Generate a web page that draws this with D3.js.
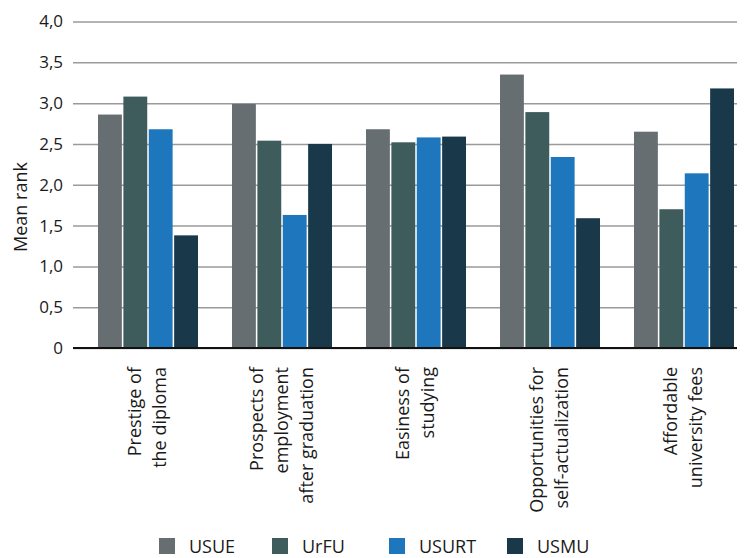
<!DOCTYPE html>
<html>
<head>
<meta charset="utf-8">
<script src="https://cdnjs.cloudflare.com/ajax/libs/d3/7.8.5/d3.min.js"></script>
<style>
  body { margin: 0; background: #fff; }
  svg { font-family: "Open Sans", sans-serif; }
  .grid line { stroke: #9a9a9a; stroke-width: 1.5; }
</style>
</head>
<body>
<svg width="744" height="558"></svg>
<script>
// chart data
var categories = [
    ["Prestige of", "the diploma"],
    ["Prospects of", "employment", "after graduation"],
    ["Easiness of", "studying"],
    ["Opportunities for", "self-actualization"],
    ["Affordable", "university fees"]
];
var series = ["USUE", "UrFU", "USURT", "USMU"];
var colors = ["#666e71", "#3f5c5c", "#1e77bd", "#19394b"];
var USUE  = [2.86, 2.99, 2.68, 3.35, 2.65];
var UrFU  = [3.08, 2.54, 2.52, 2.89, 1.70];
var USURT = [2.68, 1.63, 2.58, 2.34, 2.14];
var USMU  = [1.38, 2.50, 2.59, 1.59, 3.18];
var yTicks = [0, 0.5, 1, 1.5, 2, 2.5, 3, 3.5, 4];

var values = [USUE, UrFU, USURT, USMU];

var svg = d3.select("svg");
var plotLeft = 73, plotRight = 737;

var y = d3.scaleLinear().domain([0, 4]).range([348, 21.5]);

var x0 = d3.scaleBand()
    .domain(d3.range(categories.length))
    .range([81, 751])
    .paddingInner(34/134)
    .paddingOuter(17/134);

var x1 = d3.scaleBand()
    .domain(series)
    .range([0, x0.bandwidth()])
    .paddingInner(0.06);

var color = d3.scaleOrdinal().domain(series).range(colors);

function fmt(v) { return v === 0 ? "0" : d3.format(".1f")(v).replace(".", ","); }

// gridlines + y labels
var yAxis = d3.axisLeft(y)
    .tickValues(yTicks)
    .tickSize(-(plotRight - plotLeft))
    .tickPadding(10)
    .tickFormat(fmt);

var gy = svg.append("g")
    .attr("class", "grid")
    .attr("transform", "translate(" + plotLeft + ",0)")
    .call(yAxis);
gy.select(".domain").remove();
gy.selectAll(".tick text")
    .attr("font-size", 17)
    .attr("fill", "#1a1a1a")
    .attr("font-family", "Open Sans, sans-serif");
gy.selectAll(".tick").filter(function(d) { return d === 4; })
    .select("line").attr("stroke", "#7a7a7a");
gy.selectAll(".tick").filter(function(d) { return d === 0; })
    .select("line").attr("stroke", "#111").attr("stroke-width", 2.2);

// bars
var groups = svg.append("g").selectAll("g")
    .data(categories)
    .enter().append("g")
    .attr("transform", function(d, i) { return "translate(" + x0(i) + ",0)"; });

groups.selectAll("rect")
    .data(function(d, i) { return series.map(function(s, j) { return {key: s, value: values[j][i]}; }); })
    .enter().append("rect")
    .attr("x", function(d) { return x1(d.key); })
    .attr("y", function(d) { return y(d.value); })
    .attr("width", x1.bandwidth())
    .attr("height", function(d) { return y(0) - y(d.value); })
    .attr("fill", function(d) { return color(d.key); });

// redraw baseline on top of bars
svg.append("line")
    .attr("x1", plotLeft).attr("x2", plotRight)
    .attr("y1", y(0)).attr("y2", y(0))
    .attr("stroke", "#111").attr("stroke-width", 2.2);

// category labels, rotated
var lineH = 25, fs = 18;
svg.append("g").selectAll("text")
    .data(categories)
    .enter().append("text")
    .attr("transform", function(d, i) {
        return "translate(" + (x0(i) + x0.bandwidth() / 2) + ",367) rotate(-90)";
    })
    .attr("text-anchor", "end")
    .attr("font-size", fs)
    .attr("fill", "#1a1a1a")
    .each(function(d) {
        var t = d3.select(this);
        d.forEach(function(line, k) {
            t.append("tspan")
                .attr("x", 0)
                .attr("y", (k - (d.length - 1) / 2) * lineH + 0.33 * fs)
                .text(line);
        });
    });

// y title
svg.append("text")
    .attr("transform", "translate(27,207) rotate(-90)")
    .attr("text-anchor", "middle")
    .attr("font-size", 18)
    .attr("fill", "#1a1a1a")
    .text("Mean rank");

// legend
var legX = [159, 272, 389, 507];
var leg = svg.append("g").selectAll("g")
    .data(series)
    .enter().append("g")
    .attr("transform", function(d, i) { return "translate(" + legX[i] + ",538)"; });
leg.append("rect")
    .attr("width", 16).attr("height", 16)
    .attr("fill", function(d) { return color(d); });
leg.append("text")
    .attr("x", 30).attr("y", 14.5)
    .attr("font-size", 18)
    .attr("fill", "#1a1a1a")
    .text(function(d) { return d; });
</script>
</body>
</html>
